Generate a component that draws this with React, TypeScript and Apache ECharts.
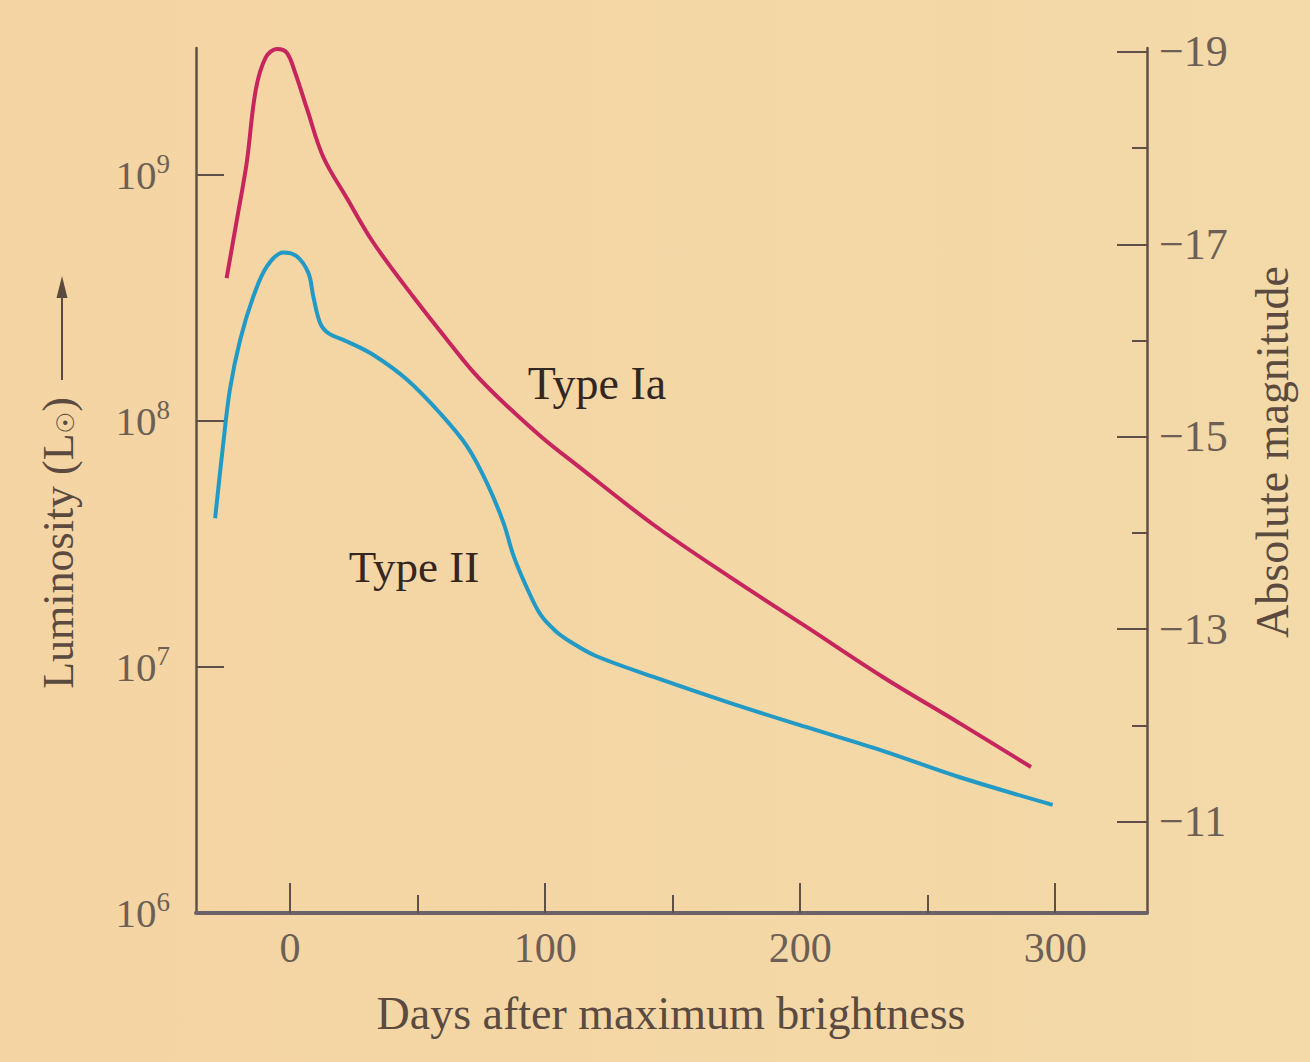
import React, { useEffect, useRef } from "react";
import * as echarts from "echarts";

// Light curves: days after maximum brightness vs luminosity (solar units)
const typeIaDays = [-24.9, -20.8, -17.0, -13.5, -9.5, -5.2, -1.3, 2.0, 6.7, 13.0, 22.4, 32.6, 48.3, 61.6, 71.8, 82.4, 98.9, 112.3, 142.5, 172.4, 202.2, 232.4, 262.3, 290.5];
const typeIaLum = [3.8e8, 6.62e8, 1.12e9, 2.2e9, 3.0e9, 3.24e9, 3.13e9, 2.59e9, 1.84e9, 1.18e9, 7.98e8, 5.3e8, 3.19e8, 2.13e8, 1.58e8, 1.22e8, 8.53e7, 6.62e7, 3.78e7, 2.32e7, 1.46e7, 9.1e6, 5.92e6, 3.92e6];

const typeIIDays = [-29.4, -26.2, -23.6, -19.6, -14.4, -9.1, -2.6, 2.6, 7.2, 9.1, 11.8, 15.0, 22.3, 32.7, 45.8, 58.9, 69.4, 77.2, 83.7, 87.7, 92.9, 98.2, 104.4, 110.7, 119.7, 142.5, 172.4, 202.2, 232.4, 262.3, 299.0];
const typeIILum = [4.02e7, 8.11e7, 1.34e8, 2.13e8, 3.2e8, 4.24e8, 4.83e8, 4.66e8, 3.98e8, 3.2e8, 2.49e8, 2.27e8, 2.1e8, 1.85e8, 1.47e8, 1.07e8, 7.87e7, 5.58e7, 3.84e7, 2.81e7, 2.09e7, 1.63e7, 1.39e7, 1.25e7, 1.11e7, 9.1e6, 7.14e6, 5.7e6, 4.56e6, 3.57e6, 2.75e6];

// Axis ticks
const dayMajorTicks = [0, 100, 200, 300];
const dayMinorTicks = [50, 150, 250];
const lumTickLabels = [1e6, 1e7, 1e8, 1e9];
const lumTickMarks = [1e7, 1e8, 1e9];
const magMajorTicks = [-19, -17, -15, -13, -11];
const magMinorTicks = [-18, -16, -14, -12];

const DAY_MIN = -36.9;
const DAY_MAX = 336;
const LUM_MIN = 1e6;
const LUM_MAX = 3.27e9;
const MAG_TOP = -19.04;
const MAG_BOTTOM = -10.05;

const SERIF = '"Liberation Serif", "Times New Roman", serif';
const AXIS_COLOR = "#5e5048";
const LABEL_COLOR = "#6d5f55";
const TITLE_COLOR = "#5a4a40";
const NOTE_COLOR = "#34271f";
const IA_COLOR = "#c7255d";
const II_COLOR = "#2399c6";

const zip = (xs: number[], ys: number[]) => xs.map((x, i) => [x, ys[i]]);

function buildOption(): echarts.EChartsOption {
  return {
    animation: false,
    backgroundColor: new echarts.graphic.LinearGradient(0, 0, 1, 0, [
      { offset: 0, color: "#f5d4a3" },
      { offset: 1, color: "#f3daa8" },
    ]) as any,
    grid: { left: 196, right: 163, top: 48, bottom: 149 },
    xAxis: [
      {
        type: "value",
        min: DAY_MIN,
        max: DAY_MAX,
        position: "bottom",
        splitLine: { show: false },
        axisLine: { show: true, onZero: false, lineStyle: { color: "#6a6268", width: 4 } },
        axisTick: {
          show: true,
          inside: true,
          length: 30,
          customValues: dayMajorTicks,
          lineStyle: { color: AXIS_COLOR, width: 2 },
        },
        axisLabel: {
          customValues: dayMajorTicks,
          margin: 14,
          color: LABEL_COLOR,
          fontFamily: SERIF,
          fontSize: 42,
        },
      },
      {
        type: "value",
        min: DAY_MIN,
        max: DAY_MAX,
        position: "bottom",
        splitLine: { show: false },
        axisLine: { show: false, onZero: false },
        axisTick: {
          show: true,
          inside: true,
          length: 18,
          customValues: dayMinorTicks,
          lineStyle: { color: AXIS_COLOR, width: 2 },
        },
        axisLabel: { show: false },
      },
    ],
    yAxis: [
      {
        type: "log",
        logBase: 10,
        min: LUM_MIN,
        max: LUM_MAX,
        position: "left",
        splitLine: { show: false },
        axisLine: { show: true, onZero: false, lineStyle: { color: AXIS_COLOR, width: 2.5 } },
        axisTick: {
          show: true,
          inside: true,
          length: 28,
          customValues: lumTickMarks,
          lineStyle: { color: AXIS_COLOR, width: 2 },
        },
        axisLabel: {
          customValues: lumTickLabels,
          margin: 26,
          color: LABEL_COLOR,
          formatter: (v: number) => `{b|10}{s|${Math.round(Math.log10(v))}}`,
          rich: {
            b: { fontFamily: SERIF, fontSize: 41, color: LABEL_COLOR },
            s: { fontFamily: SERIF, fontSize: 27, color: LABEL_COLOR, padding: [0, 0, 22, 0] },
          },
        },
      },
      {
        type: "value",
        min: MAG_TOP,
        max: MAG_BOTTOM,
        inverse: true,
        position: "right",
        splitLine: { show: false },
        axisLine: { show: true, onZero: false, lineStyle: { color: AXIS_COLOR, width: 2.5 } },
        axisTick: {
          show: true,
          inside: true,
          length: 30,
          customValues: magMajorTicks,
          lineStyle: { color: AXIS_COLOR, width: 2 },
        },
        axisLabel: {
          customValues: magMajorTicks,
          margin: 12,
          color: LABEL_COLOR,
          fontFamily: SERIF,
          fontSize: 44,
          formatter: (v: number) => "\u2212" + Math.abs(v),
        },
      },
      {
        type: "value",
        min: MAG_TOP,
        max: MAG_BOTTOM,
        inverse: true,
        position: "right",
        splitLine: { show: false },
        axisLine: { show: false, onZero: false },
        axisTick: {
          show: true,
          inside: true,
          length: 15,
          customValues: magMinorTicks,
          lineStyle: { color: AXIS_COLOR, width: 2 },
        },
        axisLabel: { show: false },
      },
    ],
    series: [
      {
        name: "Type Ia",
        type: "line",
        xAxisIndex: 0,
        yAxisIndex: 0,
        data: zip(typeIaDays, typeIaLum),
        showSymbol: false,
        smooth: 0.35,
        silent: true,
        lineStyle: { color: IA_COLOR, width: 4 },
      },
      {
        name: "Type II",
        type: "line",
        xAxisIndex: 0,
        yAxisIndex: 0,
        data: zip(typeIIDays, typeIILum),
        showSymbol: false,
        smooth: 0.35,
        silent: true,
        lineStyle: { color: II_COLOR, width: 4 },
      },
    ],
    graphic: [
      {
        type: "text",
        x: 671,
        y: 1013,
        style: {
          text: "Days after maximum brightness",
          fill: TITLE_COLOR,
          fontFamily: SERIF,
          fontSize: 46,
          align: "center",
          verticalAlign: "middle",
        },
      },
      {
        type: "text",
        x: 58,
        y: 543,
        rotation: Math.PI / 2,
        style: {
          text: "{t|Luminosity (L}{s|\u2609}{t|)}",
          align: "center",
          verticalAlign: "middle",
          rich: {
            t: { fontFamily: SERIF, fontSize: 44, fill: TITLE_COLOR },
            s: { fontFamily: '"DejaVu Sans", sans-serif', fontSize: 24, fill: TITLE_COLOR, padding: [16, 0, 0, 0] },
          },
        } as any,
      },
      {
        type: "line",
        shape: { x1: 62, y1: 380, x2: 62, y2: 292 },
        style: { stroke: TITLE_COLOR, lineWidth: 2 },
      },
      {
        type: "polygon",
        shape: { points: [[62, 276], [56.5, 298], [67.5, 298]] },
        style: { fill: TITLE_COLOR },
      },
      {
        type: "text",
        x: 1272,
        y: 452,
        rotation: Math.PI / 2,
        style: {
          text: "Absolute magnitude",
          fill: TITLE_COLOR,
          fontFamily: SERIF,
          fontSize: 46,
          align: "center",
          verticalAlign: "middle",
        },
      },
      {
        type: "text",
        x: 597,
        y: 383,
        style: {
          text: "Type Ia",
          fill: NOTE_COLOR,
          fontFamily: SERIF,
          fontSize: 46,
          align: "center",
          verticalAlign: "middle",
        },
      },
      {
        type: "text",
        x: 414,
        y: 567,
        style: {
          text: "Type II",
          fill: NOTE_COLOR,
          fontFamily: SERIF,
          fontSize: 45,
          align: "center",
          verticalAlign: "middle",
        },
      },
    ],
  };
}

export default function App() {
  const ref = useRef<HTMLDivElement>(null);
  useEffect(() => {
    document.body.style.margin = "0";
    const chart = echarts.init(ref.current!, null, { renderer: "svg" });
    chart.setOption(buildOption());
    return () => chart.dispose();
  }, []);
  return <div ref={ref} style={{ width: 1310, height: 1062 }} />;
}
